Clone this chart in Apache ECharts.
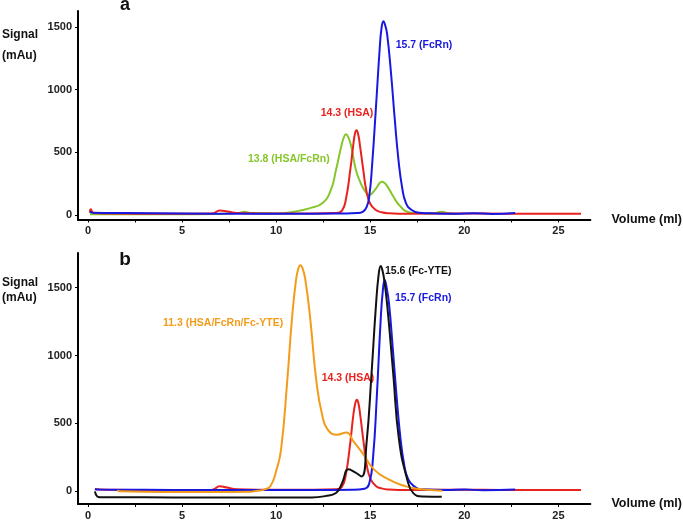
<!DOCTYPE html>
<html>
<head>
<meta charset="utf-8">
<script src="https://cdn.jsdelivr.net/npm/echarts@6/dist/echarts.min.js"></script>
<style>html,body{margin:0;padding:0;background:#fff}#c{width:683px;height:521px}</style>
</head>
<body>
<div id="c"></div>
<script>
// ---------- Data ----------
// Panel a
var volFcRnA = [0.1, 0.3, 2, 5, 8, 10, 12, 13.5, 14.3, 14.6, 14.8, 14.95, 15.1, 15.3, 15.5, 15.6, 15.7, 15.8, 15.9, 16.1, 16.3, 16.5, 16.7, 16.9, 17.2, 17.6, 18.5, 19.5, 20.5, 21.5, 22.7];
var sigFcRnA = [25, 18, 15, 12, 10, 10, 10, 12, 15, 25, 60, 150, 400, 850, 1320, 1490, 1545, 1510, 1440, 1140, 770, 440, 215, 95, 40, 18, 12, 10, 14, 8, 15];

var volHsaA = [0.1, 0.15, 0.3, 1, 4, 6.6, 7.0, 7.4, 7.9, 9, 12, 13.2, 13.5, 13.7, 13.94, 14.1, 14.19, 14.27, 14.35, 14.45, 14.63, 14.8, 15.0, 15.3, 15.6, 16, 17, 20, 22, 24, 26.2];
var sigHsaA = [20, 45, 15, 12, 10, 12, 35, 28, 15, 12, 12, 15, 35, 120, 359, 560, 650, 675, 650, 560, 359, 190, 90, 40, 22, 14, 10, 12, 10, 10, 10];

var volComplexA = [0.1, 1, 4, 7, 8.0, 8.3, 8.7, 10, 11, 11.76, 12.47, 12.91, 13.18, 13.45, 13.6, 13.71, 13.82, 13.97, 14.24, 14.45, 14.68, 14.94, 15.25, 15.5, 15.62, 15.75, 15.9, 16.18, 16.4, 16.62, 16.89, 17.3, 18.3, 18.8, 19.2, 19.6];
var sigComplexA = [5, 5, 5, 8, 15, 25, 15, 12, 28, 53, 96, 200, 359, 540, 620, 643, 625, 560, 359, 270, 200, 160, 200, 255, 266, 258, 230, 160, 105, 66, 30, 15, 12, 25, 12, 8];

// Panel b
var volFcRnB = [0.37, 0.6, 3, 6, 9, 12, 14, 14.7, 14.95, 15.15, 15.35, 15.55, 15.67, 15.77, 15.87, 16.0, 16.2, 16.4, 16.6, 16.8, 17.0, 17.3, 17.8, 19, 20, 21, 22.7];
var sigFcRnB = [18, 14, 12, 10, 10, 10, 12, 20, 60, 250, 700, 1250, 1480, 1557, 1500, 1380, 1050, 700, 400, 200, 95, 40, 15, 10, 14, 8, 14];

var volHsaB = [0.37, 1, 4, 6.6, 7.0, 7.4, 7.9, 9, 12, 13.2, 13.5, 13.7, 13.94, 14.1, 14.21, 14.29, 14.37, 14.47, 14.65, 14.82, 15.02, 15.3, 15.6, 16, 17, 20, 22, 24, 26.2];
var sigHsaB = [15, 12, 10, 12, 37, 28, 15, 12, 12, 15, 35, 120, 359, 560, 650, 674, 650, 560, 359, 190, 90, 40, 22, 14, 10, 12, 10, 10, 10];

var volComplexB = [1.57, 1.7, 4, 7, 8.5, 9.0, 9.4, 9.7, 10.0, 10.26, 10.58, 10.85, 11.05, 11.17, 11.29, 11.41, 11.55, 11.8, 12.15, 12.45, 12.74, 13.23, 13.74, 14.1, 14.59, 15.21, 16.0, 16.89, 17.5, 18.83];
var sigComplexB = [10, 0, -5, -5, -3, 5, 15, 40, 150, 307, 797, 1287, 1550, 1635, 1665, 1640, 1560, 1287, 797, 560, 454, 417, 434, 370, 282, 160, 86, 37, 20, 5];

var volFcYteB = [0.37, 0.45, 0.55, 0.7, 3, 6, 9, 11.9, 12.6, 13.18, 13.5, 13.85, 14.2, 14.54, 14.8, 15.07, 15.3, 15.45, 15.56, 15.66, 15.75, 15.91, 16.22, 16.53, 16.97, 17.3, 17.8, 18.8];
var sigFcYteB = [0, -30, -42, -44, -44, -45, -46, -45, -35, -12, 60, 162, 140, 110, 350, 870, 1360, 1600, 1660, 1620, 1550, 1360, 870, 380, 86, -15, -38, -40];

var xLabelValues = [0, 5, 10, 15, 20, 25];
var xTickValues = [0, 2.5, 5, 7.5, 10, 12.5, 15, 17.5, 20, 22.5, 25];
var yLabelValues = [0, 500, 1000, 1500];

// ---------- Chart ----------
function pairs(xs, ys) { return xs.map(function (x, i) { return [x, ys[i]]; }); }

var C_BLUE = '#1818e2', C_RED = '#e8221f', C_GREEN = '#86c62a', C_ORANGE = '#f39c1c', C_BLACK = '#111111';
var FONT = 'Liberation Sans, Arial, sans-serif';

function xAxisDef(gi) {
  return {
    type: 'value', gridIndex: gi, min: -0.53, max: 26.7,
    name: 'Volume (ml)', nameLocation: 'end', nameGap: 21,
    nameTextStyle: { fontFamily: FONT, fontWeight: 'bold', fontSize: 12.5, color: '#111', verticalAlign: 'middle' },
    axisLine: { show: true, onZero: false, lineStyle: { color: '#000', width: 2 } },
    axisTick: { show: true, length: 3, customValues: xTickValues, lineStyle: { color: '#000', width: 1 } },
    axisLabel: { customValues: xLabelValues, formatter: function (v) { return String(v); }, fontFamily: FONT, fontWeight: 'bold', fontSize: 11, color: '#222', margin: 6 },
    splitLine: { show: false }
  };
}
function yAxisDef(gi, mn, mx) {
  return {
    type: 'value', gridIndex: gi, min: mn, max: mx,
    axisLine: { show: true, onZero: false, lineStyle: { color: '#000', width: 2 } },
    axisTick: { show: true, length: 3, customValues: yLabelValues, lineStyle: { color: '#000', width: 1 } },
    axisLabel: { customValues: yLabelValues, formatter: function (v) { return String(v); }, fontFamily: FONT, fontWeight: 'bold', fontSize: 11, color: '#222', margin: 6 },
    splitLine: { show: false }
  };
}
function line(gi, xs, ys, color, z) {
  return {
    type: 'line', xAxisIndex: gi, yAxisIndex: gi, data: pairs(xs, ys),
    showSymbol: false, smooth: 0.5, z: z,
    lineStyle: { color: color, width: 2 }, itemStyle: { color: color }, animation: false
  };
}
function txt(x, y, s, color, size, align) {
  return { type: 'text', x: x, y: y, style: { text: s, fill: color, font: 'bold ' + size + 'px ' + FONT, textVerticalAlign: 'middle', textAlign: align || 'left' } };
}

var chart = echarts.init(document.getElementById('c'), null, { renderer: 'canvas' });
chart.setOption({
  backgroundColor: '#fff',
  animation: false,
  grid: [
    { left: 78, top: 11, width: 513.7, height: 208.5 },
    { left: 78, top: 253, width: 513.7, height: 251.3 }
  ],
  xAxis: [xAxisDef(0), xAxisDef(1)],
  yAxis: [yAxisDef(0, -36, 1627), yAxisDef(1, -93, 1755)],
  series: [
    line(0, volComplexA, sigComplexA, C_GREEN, 2),
    line(0, volHsaA, sigHsaA, C_RED, 3),
    line(0, volFcRnA, sigFcRnA, C_BLUE, 4),
    line(1, volHsaB, sigHsaB, C_RED, 2),
    line(1, volFcRnB, sigFcRnB, C_BLUE, 3),
    line(1, volComplexB, sigComplexB, C_ORANGE, 4),
    line(1, volFcYteB, sigFcYteB, C_BLACK, 5)
  ],
  graphic: [
    txt(125, 5, 'a', '#111', 18, 'center'),
    txt(125, 260, 'b', '#111', 19, 'center'),
    txt(2, 34.5, 'Signal', '#111', 12),
    txt(2, 55.5, '(mAu)', '#111', 12),
    txt(2, 282.5, 'Signal', '#111', 12),
    txt(2, 297.5, '(mAu)', '#111', 12),
    txt(395.7, 45, '15.7 (FcRn)', C_BLUE, 10.5),
    txt(320.7, 113, '14.3 (HSA)', C_RED, 10.5),
    txt(248, 159, '13.8 (HSA/FcRn)', C_GREEN, 10.5),
    txt(385, 270.7, '15.6 (Fc-YTE)', C_BLACK, 10.5),
    txt(395, 298, '15.7 (FcRn)', C_BLUE, 10.5),
    txt(321.7, 378, '14.3 (HSA)', C_RED, 10.5),
    txt(163, 323.5, '11.3 (HSA/FcRn/Fc-YTE)', C_ORANGE, 10.5)
  ]
});
</script>
</body>
</html>
